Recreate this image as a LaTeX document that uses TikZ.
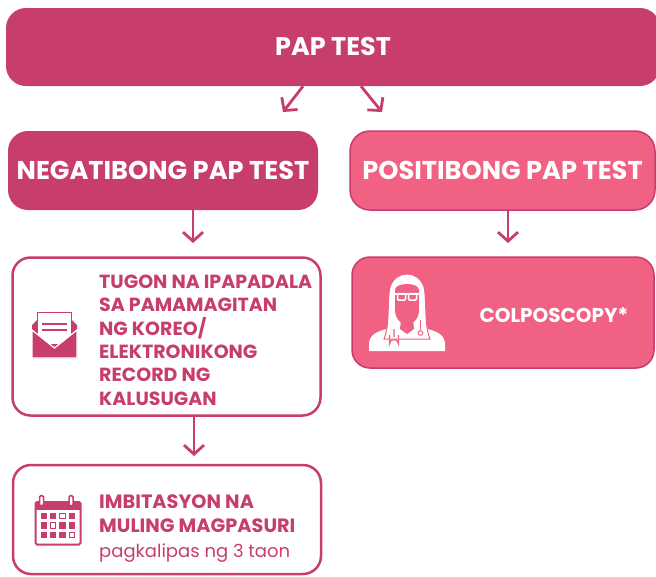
\documentclass[tikz,border=0pt]{standalone}
\usepackage{fontspec}
\setmainfont{Poppins}
\usetikzlibrary{arrows.meta}
\definecolor{rose}{HTML}{C63D6E}
\definecolor{lightrose}{HTML}{F06183}
\begin{document}
\begin{tikzpicture}[x=1pt,y=-1pt,
  box/.style={fill=rose,text=white,rounded corners=20pt,inner sep=0pt,font=\bfseries\fontsize{25.7}{30}\selectfont},
  posbox/.style={box,fill=lightrose,draw=rose,line width=1.5pt},
  card/.style={draw=rose,line width=2.5pt,fill=white,rounded corners=18pt,inner sep=0pt},
  cardtext/.style={text=rose,align=left,inner sep=0pt,anchor=base west,font=\bfseries\fontsize{19}{23.3}\selectfont},
  arr/.style={draw=rose,line width=2.8pt,-{Straight Barb[length=9pt,width=20pt]}}]
\useasboundingbox (0,0) rectangle (656,576);
% boxes
\node[box,minimum width=654pt,minimum height=78pt,font=\bfseries\fontsize{25.5}{30}\selectfont] (paptest) at (333,47) {PAP TEST};
\node[box,minimum width=310pt,minimum height=79pt] (neg) at (163,170.5) {NEGATIBONG PAP TEST};
\node[posbox,minimum width=305pt,minimum height=79pt] (pos) at (502.5,170.5) {POSITIBONG PAP TEST};
\node[card,minimum width=308pt,minimum height=158pt] (tugon) at (166.5,336.5) {};
\node[posbox,rounded corners=18pt,minimum width=302pt,minimum height=111pt] (colpo) at (503,312.5) {};
\node[card,minimum width=308pt,minimum height=109pt] (imbit) at (167,519.5) {};
% texts (base = last line)
\node[cardtext] (tugontxt) at (99,405) {TUGON NA IPAPADALA\\SA PAMAMAGITAN\\NG KOREO/\\ELEKTRONIKONG\\RECORD NG\\KALUSUGAN};
\node[cardtext,font=\bfseries\fontsize{19.3}{24.5}\selectfont] (imbittxt) at (99,557) {IMBITASYON NA\\MULING MAGPASURI\\{\mdseries\fontsize{18}{24.5}\selectfont pagkalipas ng 3 taon}};
\node[text=white,font=\bfseries\fontsize{20}{24}\selectfont] (colpotxt) at (554,315) {COLPOSCOPY*};
% arrows
\coordinate (negin) at (283,112);
\coordinate (posin) at (382,112);
\coordinate (tugonin) at (193,243);
\coordinate (colpoin) at (508,243);
\coordinate (imbitin) at (194,456);
\draw[arr] ([xshift=-30pt]paptest.south) -- (negin);
\draw[arr] ([xshift=28pt]paptest.south) -- (posin);
\draw[arr] ([xshift=30pt]neg.south) -- (tugonin);
\draw[arr] ([xshift=5.5pt]pos.south) -- (colpoin);
\draw[arr] ([xshift=27.5pt]tugon.south) -- (imbitin);
% envelope
\fill[rose] (32,358) -- (32,325) -- (39,318) -- (70,318) -- (77,325) -- (77,358) -- cycle;
\draw[rose,line width=1.5pt,fill=white] (37.5,312.5) rectangle (71.5,345);
\draw[rose,line width=1.3pt] (42,324) -- (67,324) (42,330) -- (67,330);
\filldraw[rose,draw=white,line width=1.2pt] (32,330) -- (54.5,348) -- (77,330) -- (77,358) -- (32,358) -- cycle;
% calendar
\draw[rose,line width=2pt,fill=white,rounded corners=1.5pt] (35.5,502) rectangle (80.5,544.5);
\fill[rose] (35.5,502) rectangle (80.5,510);
\draw[rose,line width=1.5pt,fill=white,rounded corners=1.5pt] (39.5,495.5) rectangle (43.5,506) (69,495.5) rectangle (73,506);
\foreach \c in {0,...,3} \foreach \r in {0,1,2}
  \fill[rose] (40.5+9.4*\c,513+9.3*\r) rectangle ++(6.2,6.2);
\foreach \c/\r in {2/0,1/1,3/2}
  \draw[rose,line width=0.8pt,fill=white] (40.9+9.4*\c,513.4+9.3*\r) rectangle ++(5.4,5.4);
% doctor
\fill[white] (369,351) -- (369,343) .. controls (370,334) and (378,331) .. (390,328) -- (424,328) .. controls (436,331) and (444,334) .. (445,343) -- (445,351) -- cycle;
\filldraw[white,draw=lightrose,line width=1pt] (384,339) .. controls (390,325) and (387,300) .. (390,287) .. controls (393,278) and (400,274) .. (407,274) .. controls (414,274) and (421,278) .. (424,287) .. controls (427,300) and (424,325) .. (430,339) -- cycle;
\fill[lightrose] (395,290) .. controls (395,282) and (419,282) .. (419,290) -- (419,310) .. controls (419,320) and (411,325) .. (407,325) .. controls (403,325) and (395,320) .. (395,310) -- cycle;
\fill[lightrose] (401,320) -- (413,320) -- (414,329) -- (407,334) -- (400,329) -- cycle;
\draw[white,line width=1.5pt,rounded corners=1pt] (397.5,293.5) rectangle (405.5,300) (408.5,293.5) rectangle (416.5,300);
\draw[white,line width=1.5pt] (395,294) -- (419,294);
\draw[lightrose,line width=1.2pt] (394,329) -- (394,337) (389.5,335) -- (389.5,344) arc (180:360:4.5) -- (398.5,335);
\draw[lightrose,line width=1.2pt] (420.5,320) -- (420.5,331);
\filldraw[white,draw=lightrose,line width=1pt] (420.5,333) circle (2.3);
\end{tikzpicture}
\end{document}
